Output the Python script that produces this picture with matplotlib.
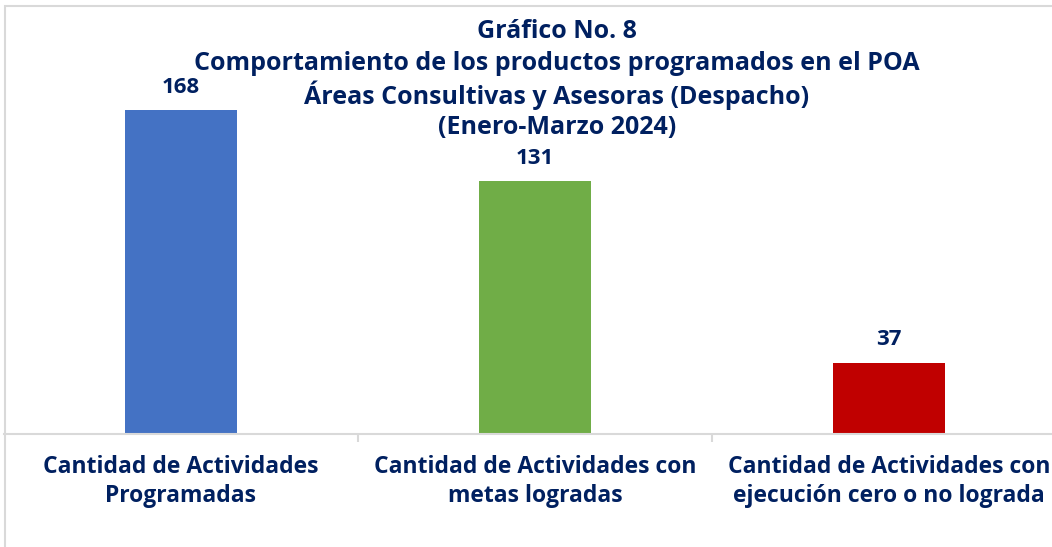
import matplotlib.pyplot as plt
from matplotlib.patches import Rectangle

categories = [
    "Cantidad de Actividades\nProgramadas",
    "Cantidad de Actividades con\nmetas logradas",
    "Cantidad de Actividades con\nejecución cero o no lograda",
]
values = [168, 131, 37]
colors = ["#4472C4", "#70AD47", "#C00000"]

title_lines = [
    "Gráfico No. 8",
    "Comportamiento de los productos programados en el POA",
    "Áreas Consultivas y Asesoras (Despacho)",
    "(Enero-Marzo 2024)",
]

NAVY = "#002060"
GRID = "#D9D9D9"
FONT = ["Open Sans", "DejaVu Sans"]

W, H = 1052, 547
fig = plt.figure(figsize=(W / 100, H / 100), dpi=100)

# chart frame (runs off right/bottom edge as in the original)
fig.patches.append(Rectangle((5 / W, -0.1), 1.2, (H - 6) / H + 0.1,
                             transform=fig.transFigure, fill=False,
                             edgecolor=GRID, linewidth=1.5))

# axes: baseline at y=434px, category width ~354px
base_px = 434
top_px = 50
scale = (base_px - 110) / 168.0
ax = fig.add_axes([4 / W, (H - base_px) / H, 1062 / W, (base_px - top_px) / H])
ax.set_xlim(-0.5, 2.5)
ax.set_ylim(0, (base_px - top_px) / scale)
ax.set_facecolor("none")

x = range(len(values))
bars = ax.bar(x, values, width=0.314, color=colors)

for b, v in zip(bars, values):
    ax.annotate(str(v), (b.get_x() + b.get_width() / 2, v),
                xytext=(0, 9), textcoords="offset points",
                ha="center", va="bottom", fontsize=16, fontweight="bold",
                color=NAVY, family=FONT)

for s in ["top", "right", "left"]:
    ax.spines[s].set_visible(False)
ax.spines["bottom"].set_color(GRID)
ax.spines["bottom"].set_linewidth(1.5)

ax.set_yticks([])
ax.set_xticks([0.5, 1.5], minor=True)
ax.tick_params(axis="x", which="minor", length=6, color=GRID, width=1.5)
ax.set_xticks(list(x))
ax.set_xticklabels(categories, fontsize=16.5, fontweight="bold", color=NAVY,
                   family=FONT, linespacing=1.27)
ax.tick_params(axis="x", which="major", length=0, pad=15)

ys = [32, 63, 95, 127]
for line, y in zip(title_lines, ys):
    fig.text(557 / W, 1 - y / H, line, ha="center", va="center",
             fontsize=18, fontweight="bold", color=NAVY, family=FONT)

fig.savefig("out.png", dpi=100)
